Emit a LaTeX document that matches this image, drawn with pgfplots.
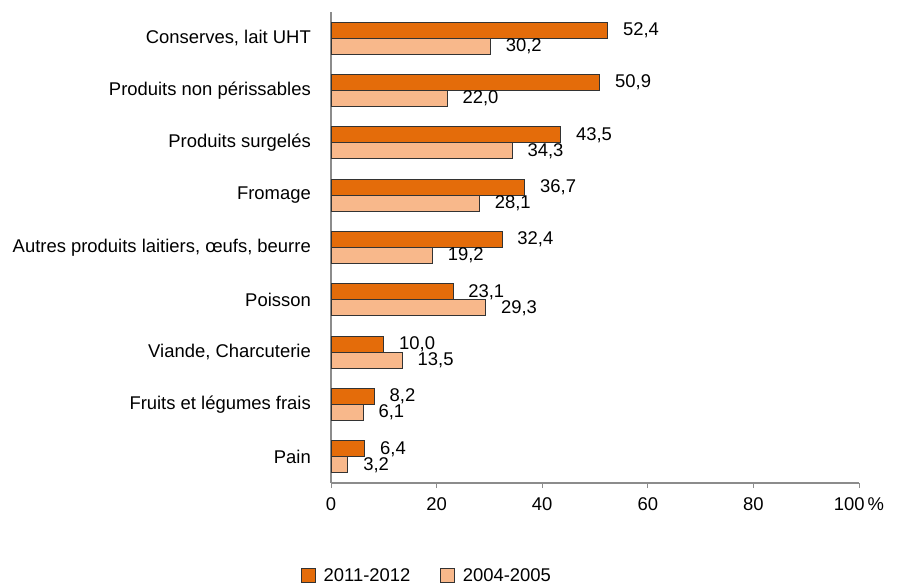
\documentclass[border=0pt]{standalone}
\usepackage{fontspec}
\setmainfont{Liberation Sans}
\usepackage{pgfplots}
\pgfplotsset{compat=1.18}
\definecolor{darkor}{HTML}{E46C0A}
\definecolor{lightor}{HTML}{F8B88B}
\definecolor{axgray}{HTML}{8C8C8C}
\pgfplotsset{sqlegend/.style={legend image code/.code={\draw[##1] (-11bp,-7bp) rectangle (3bp,7bp); \path[draw=none, fill=none] (-11bp,0bp) -- (9bp,0bp);}}}
\begin{document}
\begin{tikzpicture}[font=\fontsize{18.5}{21}\selectfont]
\path[use as bounding box] (0bp,0bp) rectangle (899bp,-585bp);
\begin{axis}[
  at={(331bp,-483bp)}, anchor=south west,
  scale only axis, width=528bp, height=471bp,
  xbar=0pt, bar width=16bp,
  xmin=0, xmax=100, ymin=-0.5, ymax=8.5, y dir=reverse,
  ytick={0,...,8},
  yticklabels={{Conserves, lait UHT}, Produits non périssables, Produits surgelés, Fromage,
    {Autres produits laitiers, œufs, beurre}, Poisson, {Viande, Charcuterie},
    Fruits et légumes frais, Pain},
  xtick={0,20,40,60,80,100}, xticklabels={0,20,40,60,80,100\,\%},
  axis x line*=bottom, axis y line*=left,
  axis line style={axgray, line width=1.2bp},
  x tick style={axgray, line width=1bp}, major tick length=5bp, tick align=outside,
  y tick style={draw=none},
  ticklabel style={font=\fontsize{18.5}{21}\selectfont},
  x tick label style={yshift=-6bp},
  y tick label style={inner sep=0pt, xshift=-15bp},
  /pgf/number format/assume math mode=true,
  nodes near coords,
  nodes near coords style={font=\fontsize{18.5}{21}\selectfont, anchor=west, inner sep=0pt, xshift=15bp,
    /pgf/number format/.cd, fixed, fixed zerofill, precision=1, use comma, assume math mode=true},
  legend style={at={(0.182,-0.197)}, anchor=center, draw=none, legend columns=2,
    font=\fontsize{18.5}{21}\selectfont,
    /tikz/every even column/.append style={column sep=28bp}},
]
\addplot[fill=darkor, draw=black!80, line width=0.8bp, bar shift=8bp, sqlegend]
  coordinates {(52.4,0) (50.9,1) (43.5,2) (36.7,3) (32.4,4) (23.1,5) (10.0,6) (8.2,7) (6.4,8)};
\addlegendentry{2011-2012}
\addplot[fill=lightor, draw=black!80, line width=0.8bp, bar shift=-8bp, sqlegend]
  coordinates {(30.2,0) (22.0,1) (34.3,2) (28.1,3) (19.2,4) (29.3,5) (13.5,6) (6.1,7) (3.2,8)};
\addlegendentry{2004-2005}
\end{axis}
\end{tikzpicture}
\end{document}
